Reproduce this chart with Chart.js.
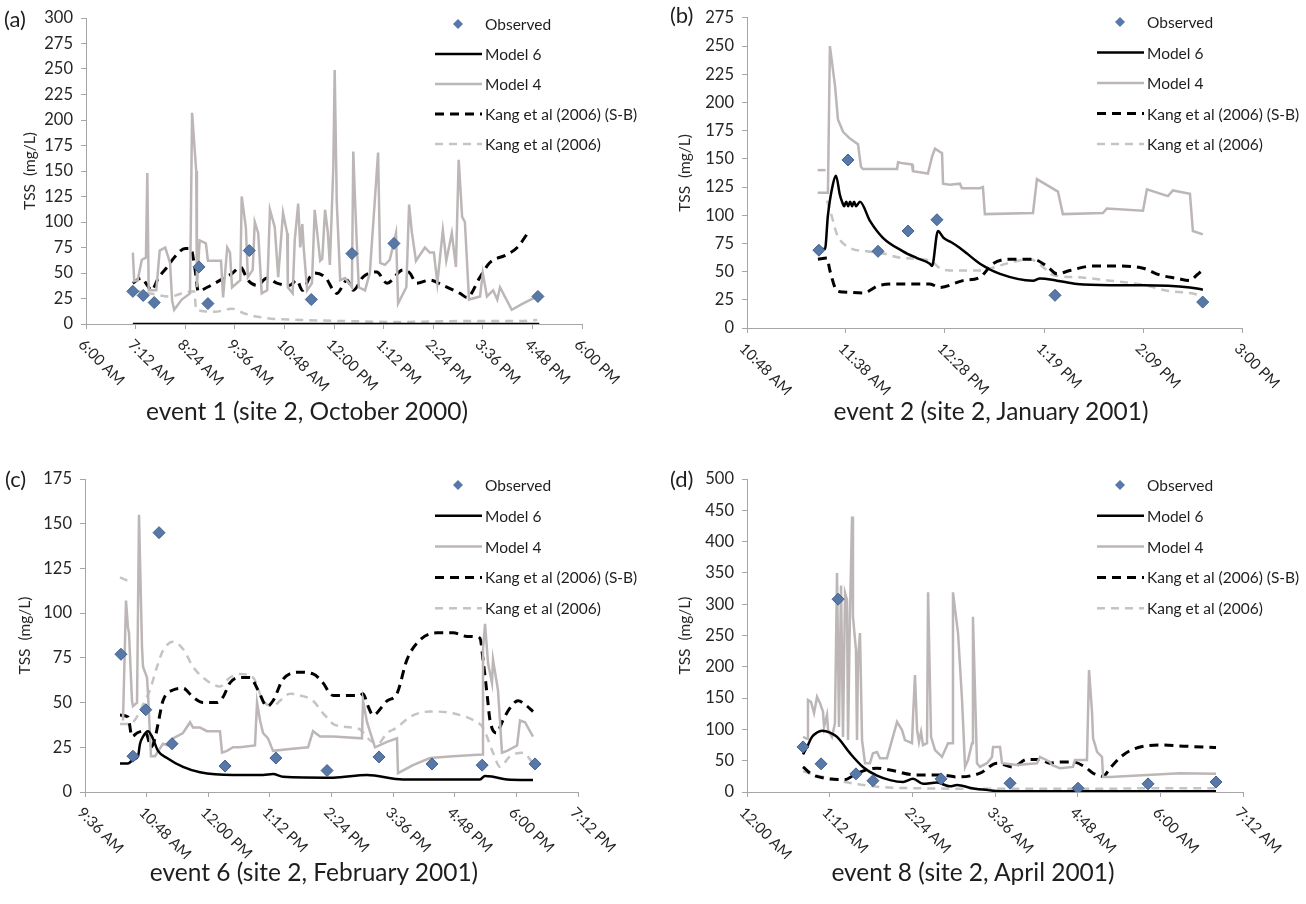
<!DOCTYPE html>
<html>
<head>
<meta charset="utf-8">
<script src="https://cdn.jsdelivr.net/npm/chart.js@4.4.1/dist/chart.umd.min.js"></script>
<style>
body{margin:0;background:#fff;font-family:Lato,sans-serif;}
#wrap{position:relative;width:1306px;height:904px;overflow:hidden;background:#fff;}
.panel{position:absolute;width:653px;height:452px;}
.title{position:absolute;width:600px;text-align:center;font-size:24.5px;line-height:30px;color:#1e1e1e;}
.tag{position:absolute;font-size:22px;line-height:26px;color:#1e1e1e;}
</style>
</head>
<body>
<div id="wrap">
  <div class="panel" style="left:0;top:0"><canvas id="cA" width="653" height="452"></canvas></div>
  <div class="panel" style="left:653px;top:0"><canvas id="cB" width="653" height="452"></canvas></div>
  <div class="panel" style="left:0;top:452px"><canvas id="cC" width="653" height="452"></canvas></div>
  <div class="panel" style="left:653px;top:452px"><canvas id="cD" width="653" height="452"></canvas></div>
  <div class="tag" style="left:4px;top:6px">(a)</div>
  <div class="tag" style="left:670px;top:2px">(b)</div>
  <div class="tag" style="left:5px;top:466px">(c)</div>
  <div class="tag" style="left:670px;top:466px">(d)</div>
  <div class="title" style="left:7px;top:396px">event 1 (site 2, October 2000)</div>
  <div class="title" style="left:691px;top:396px">event 2 (site 2, January 2001)</div>
  <div class="title" style="left:14px;top:857px">event 6 (site 2, February 2001)</div>
  <div class="title" style="left:673px;top:857px">event 8 (site 2, April 2001)</div>
</div>
<script>
// x values are minutes after midnight, y values are TSS in mg/L

// ---- (a) event 1
const ticksA = [360, 432, 504, 576, 648, 720, 792, 864, 936, 1008, 1080];
const tickLabelsA = ['6:00 AM','7:12 AM','8:24 AM','9:36 AM','10:48 AM','12:00 PM','1:12 PM','2:24 PM','3:36 PM','4:48 PM','6:00 PM'];
const obsA = [[428,32],[443,28],[459,21],[524,56],[537,20],[597,72],[687,24],[746,69],[807,79],[1016,27]];
const model6A = [[428,0],[1018,0]];
const model4A = [[428,70],[430,42],[435,43],[441,63],[447,65],[449,148],[451,33],[462,33],[467,72],[475,75],[482,60],[485,23],[488,14],[499,24],[511,30],[514,207],[517,178],[520,150],[521,36],[525,82],[534,79],[537,62],[556,62],[559,26],[565,75],[569,70],[572,36],[584,43],[586,125],[592,95],[595,46],[602,53],[605,100],[610,89],[615,30],[623,33],[627,112],[634,95],[639,46],[646,109],[652,89],[653,36],[660,30],[663,82],[668,118],[671,75],[674,98],[676,75],[681,33],[688,40],[692,112],[700,62],[703,64],[707,112],[711,90],[714,58],[717,115],[719,154],[721,249],[724,120],[729,43],[736,45],[746,36],[748,169],[750,131],[753,80],[756,36],[765,33],[772,50],[784,168],[787,60],[794,58],[801,63],[810,89],[813,20],[825,36],[829,117],[833,90],[839,62],[852,75],[859,70],[865,70],[870,40],[878,92],[883,62],[891,89],[897,56],[901,161],[906,105],[910,100],[916,24],[932,27],[936,50],[942,27],[951,33],[957,24],[961,36],[978,14],[994,20],[1015,27]];
const kangSbA = [[428,40],[440,45],[449,38],[455,33],[465,45],[478,56],[489,66],[504,74],[512,74],[518,55],[523,32],[536,36],[555,43],[573,50],[584,56],[595,43],[608,38],[623,45],[637,40],[656,38],[666,43],[674,33],[685,46],[692,50],[707,46],[724,30],[739,43],[748,33],[762,46],[782,51],[797,40],[820,53],[830,50],[840,40],[859,43],[878,38],[903,30],[913,26],[932,46],[946,60],[971,68],[986,75],[1004,92]];
const kangA = [[428,33],[453,30],[482,27],[504,31],[517,32],[520,14],[547,12],[572,15],[591,10],[620,6],[671,4],[729,3],[816,2],[917,3],[990,3],[1015,4]];

// ---- (b) event 2
const ticksB = [648, 698.4, 748.8, 799.2, 849.6, 900];
const tickLabelsB = ['10:48 AM','11:38 AM','12:28 PM','1:19 PM','2:09 PM','3:00 PM'];
const obsB = [[684.6,69],[699.4,149],[714.7,68],[730,86],[744.7,96],[804.8,29],[880,23]];
const model6B = [[684.1,70],[687.7,70],[689.2,100],[691.8,128],[693.3,135],[695.3,118],[696.4,112],[697.5,108],[698.5,112],[699.5,108],[700.5,112],[701.5,108],[702.5,112],[703.5,108],[705.5,112],[710.6,95],[717.2,80],[727.4,68],[734.5,62],[741.1,57],[742.2,55],[745.2,86],[748,80],[752,76],[756.4,71],[760,66],[766.6,57],[776.8,48],[793.6,42],[797.1,44],[805.8,42],[816,39],[832.8,38],[849.6,38],[873.5,36],[880.1,34]];
const model4StubB = [[684,140],[688,140]];
const model4B = [[684,120],[689.2,120],[690.2,250],[692.8,215],[694.3,185],[696.9,174],[700.4,168],[704.5,163],[706,143],[707,141],[724.4,141],[724.9,147],[727.4,146],[732,145],[732.5,139],[740.1,137],[742.2,152],[743.7,159],[747.3,155],[747.8,128],[751.3,127],[756.4,128],[757.4,124],[766.6,124],[768.1,125],[769.1,101],[793.6,102],[795.6,132],[806.3,121],[808.8,101],[829.2,102],[831.2,106],[849.6,104],[851.6,123],[862.3,117],[864.8,122],[873.5,119],[875,86],[880.1,83]];
const kangSbB = [[684.1,61],[688.7,62],[690.2,51],[693.8,33],[696.9,32],[707,31],[715.7,38],[724.4,39],[741.1,39],[746.2,36],[757.9,42],[766.6,45],[773.2,57],[781.9,61],[793.6,61],[801.2,54],[805.8,48],[812.4,51],[824.1,55],[836.3,55],[849.6,53],[858.2,47],[866.9,44],[873.5,42],[877,47],[879.6,51]];
const kangB = [[688.7,113],[690.2,105],[691.8,95],[693.8,83],[700.4,71],[709.1,68],[717.2,66],[727.4,62],[741.1,60],[746.2,53],[751.3,51],[766.6,51],[770.2,52],[781.9,58],[792,61],[798.7,54],[803.8,47],[816,45],[832.8,42],[850.6,38],[861.8,33],[873.5,31],[878.6,29]];

// ---- (c) event 6
const ticksC = [576, 648, 720, 792, 864, 936, 1008, 1080, 1152];
const tickLabelsC = ['9:36 AM','10:48 AM','12:00 PM','1:12 PM','2:24 PM','3:36 PM','4:48 PM','6:00 PM','7:12 PM'];
const obsC = [[618,77],[632,20],[647,46],[662.5,145],[677.7,27],[739.6,14.5],[799,19],[858.8,12],[919.5,19.6],[981.4,15.7],[1040,15],[1101.8,15.7]];
const model6C = [[616.9,16],[626.2,16],[632.1,18],[637.9,20],[640.3,27],[643.8,31],[649.6,34],[654.3,31],[661.3,23],[671.8,19],[690.5,14],[710.4,11],[748.9,9.5],[784,9.5],[795.7,10],[807.3,8.5],[866,8],[905.5,9.5],[947.5,7],[1037.5,7],[1043.4,9],[1052.7,8.5],[1069.1,7],[1099.4,6.7]];
const model4C = [[620.4,40],[623.9,107],[626.2,92],[627.4,89],[630.9,51],[632.1,48],[636.8,50],[639.1,155],[642.6,81],[643.8,70],[648.4,64],[649.6,55],[653.1,20],[657.8,20],[667.1,27],[673,26],[678.8,30],[690.5,33],[698.7,39],[702.2,36],[710.4,36],[718.5,34],[733.7,34],[736.1,22],[741.9,23],[748.9,25],[757.1,25],[774.6,26],[777,50],[780.5,40],[784,33],[789.8,30],[795.7,23],[815.5,24],[836.6,25],[842.4,34],[850.6,31],[866,31],[899.6,30],[900.8,51],[905.5,39],[914.8,25],[928.9,28],[940.5,30],[941.7,10.5],[959.2,15],[979.1,19],[1006,20],[1039.9,21],[1041,80],[1043.4,94],[1046.9,72],[1051.5,61],[1052.7,74],[1058.5,57],[1063.2,22],[1069.1,23],[1080.8,26],[1084.3,40],[1090.1,39],[1099.4,31]];
const kangSbC = [[616.9,43],[626.2,42],[630.9,31],[636.8,33],[643.8,34],[648.4,32],[653.1,25],[657.8,30],[661.3,38],[667.1,51],[678.8,57],[690.5,58],[702.2,53],[713.9,50],[730.2,50],[737.2,53],[745.4,61],[757.1,64],[768.8,64],[778.1,57],[788.7,48],[795.7,51],[807.3,63],[827.2,67],[842.4,66],[854.1,61],[862.3,55],[866,54],[897.3,54],[900.8,55],[906.7,48],[912.5,43],[928.9,51],[940.5,55],[952.2,74],[967.4,85],[987.3,89],[1006,89],[1022.3,87],[1037.5,86],[1041,74],[1045.7,55],[1049.2,40],[1057.4,33],[1063.2,39],[1072.6,47],[1081.9,51],[1092.4,48],[1099.4,45]];
const kangStubC = [[616.9,120],[626.2,118]];
const kangC = [[616.9,38],[628.6,38],[637.9,43],[645,50],[651.9,57],[660.1,70],[667.1,79],[678.8,84],[690.5,80],[702.2,70],[713.9,64],[733.7,59],[745.4,64],[757.1,66],[772.3,64],[784,51],[795.7,48],[803.8,51],[815.5,55],[827.2,54],[842.4,51],[854.1,44],[862.3,40],[866,38],[889.1,36],[897.3,35],[909,29],[918.3,27],[928.9,33],[940.5,36],[955.7,42],[979.1,45],[1006,44],[1034,39],[1041,36],[1052.7,22],[1060.9,14],[1072.6,20],[1087.8,22],[1099.4,16]];

// ---- (d) event 8
const ticksD = [0, 72, 144, 216, 288, 360, 432];
const tickLabelsD = ['12:00 AM','1:12 AM','2:24 AM','3:36 AM','4:48 AM','6:00 AM','7:12 AM'];
const obsD = [[48.8,72],[64.5,45],[79.3,308],[94.9,29],[109.7,18],[169,21],[229.1,14],[288.3,6],[349.3,13],[408.5,16]];
const model6D = [[48.8,60],[52.3,72],[56.6,88],[61,95],[65.3,98],[72.3,95],[78.4,88],[89.7,62],[101,40],[113.2,26],[124.6,19],[135.9,16],[144.6,21],[153.3,13],[165.5,15],[176.8,9],[182.9,11],[196,6],[210,3],[225,1],[408.5,1]];
const model4D = [[48.8,88],[52.3,85],[53.1,147],[55.7,144],[58.4,126],[61,152],[63.6,142],[66.2,128],[67.1,104],[69.7,123],[70.6,99],[74,88],[76.6,110],[78.4,350],[80.1,104],[81.9,330],[83.6,88],[85.4,318],[87.1,307],[88,83],[89.7,286],[91.5,440],[92.3,280],[94.9,227],[95.8,83],[96.7,211],[98.4,254],[100.2,83],[102.8,46],[107.1,46],[109.7,62],[113.2,64],[115.8,54],[121.9,54],[130.7,112],[135,99],[137.6,83],[143.7,78],[144.6,120],[146.3,187],[148.1,100],[149.8,80],[151.6,96],[153.3,75],[156.8,78],[157.7,319],[160.3,88],[163.8,67],[169.8,56],[175.1,78],[178.6,78],[179.4,319],[183.8,254],[187.3,147],[189.9,40],[192.5,51],[196,78],[196.8,280],[200.3,46],[202.9,40],[209,46],[213.4,56],[214.3,72],[220.4,72],[222.1,46],[235.2,43],[252.6,46],[255.2,56],[263.9,48],[265.7,43],[272.6,38],[283.9,40],[285.7,51],[296.1,51],[297.9,195],[300.5,128],[301.4,86],[304.9,64],[309.2,56],[310.1,24],[316.2,24],[348.4,27],[377.1,30],[408.5,29]];
const kangSbD = [[48.8,40],[56.6,28],[67.9,22],[85.4,20],[95.8,30],[113.2,38],[124.6,35],[148.1,27],[170.7,27],[182.9,24],[202.9,30],[217.8,46],[231.7,40],[243.9,52],[255.2,52],[263.9,46],[272.6,48],[283.9,48],[294.4,40],[301.4,30],[310.1,25],[316.2,38],[324.9,55],[333.6,66],[348.4,74],[359.7,75],[383.2,73],[408.5,71]];
const kangD = [[48.8,33],[59.2,27],[72.3,22],[85.4,16],[98.4,12],[115.8,8],[150,6],[220,5],[310,5],[350,6],[408.5,6]];

const toXY = arr => arr.map(p => ({x: p[0], y: p[1]}));

// rotated time labels under the x axis (Excel style, text running down-right)
const timeLabels = {
  id: 'timeLabels',
  afterDraw(chart, args, o) {
    const ctx = chart.ctx, xs = chart.scales.x, bottom = chart.chartArea.bottom;
    ctx.save();
    ctx.font = '15px Lato';
    ctx.fillStyle = '#262626';
    ctx.textAlign = 'left';
    ctx.textBaseline = 'middle';
    o.ticks.forEach((v, i) => {
      ctx.save();
      ctx.translate(xs.getPixelForValue(v) - 5, bottom + 18);
      ctx.rotate(Math.PI / 4);
      ctx.fillText(o.labels[i], 0, 0);
      ctx.restore();
    });
    ctx.restore();
  }
};

// vertical legend sitting in the top right of the plot
const sideLegend = {
  id: 'sideLegend',
  afterDraw(chart, args, o) {
    const ctx = chart.ctx;
    ctx.save();
    ctx.font = '15.5px Lato';
    ctx.textBaseline = 'middle';
    ctx.textAlign = 'left';
    [0, 1, 2, 3, 4].forEach((k, i) => {
      const ds = chart.data.datasets[k];
      const y = o.y + i * o.gap;
      if (ds.type === 'scatter') {
        const cx = o.x + 23, r = 5;
        ctx.beginPath();
        ctx.moveTo(cx - r, y); ctx.lineTo(cx, y - r); ctx.lineTo(cx + r, y); ctx.lineTo(cx, y + r);
        ctx.closePath();
        ctx.fillStyle = ds.backgroundColor;
        ctx.fill();
      } else {
        ctx.beginPath();
        ctx.strokeStyle = ds.borderColor;
        ctx.lineWidth = ds.borderWidth;
        ctx.setLineDash(ds.borderDash || []);
        ctx.moveTo(o.x, y);
        ctx.lineTo(o.x + 47, y);
        ctx.stroke();
        ctx.setLineDash([]);
      }
      ctx.fillStyle = '#1e1e1e';
      ctx.fillText(ds.label, o.x + 50, y + 1);
    });
    ctx.restore();
  }
};

const OBS = {type:'scatter', label:'Observed', pointStyle:'rectRot', pointRadius:6, backgroundColor:'#5879A7', borderColor:'#40608E', borderWidth:1};
const M6 = {type:'line', label:'Model 6', borderColor:'#000', borderWidth:2.5, pointRadius:0, cubicInterpolationMode:'monotone'};
const M4 = {type:'line', label:'Model 4', borderColor:'#BDB6B6', borderWidth:2.5, pointRadius:0};
const KSB = {type:'line', label:'Kang et al (2006) (S-B)', borderColor:'#000', borderWidth:3, borderDash:[9,6], pointRadius:0, cubicInterpolationMode:'monotone'};
const K = {type:'line', label:'Kang et al (2006)', borderColor:'#C4C4C4', borderWidth:2.5, borderDash:[8,6], pointRadius:0, cubicInterpolationMode:'monotone'};

function makeChart(id, p) {
  const datasets = [
    Object.assign({}, OBS, {data: toXY(p.obs)}),
    Object.assign({}, M6, {data: toXY(p.m6)}),
    Object.assign({}, M4, {data: toXY(p.m4)}),
    Object.assign({}, KSB, {data: toXY(p.ksb)}),
    Object.assign({}, K, {data: toXY(p.k)})
  ];
  if (p.m4Stub) datasets.push(Object.assign({}, M4, {data: toXY(p.m4Stub)}));
  if (p.kStub) datasets.push(Object.assign({}, K, {data: toXY(p.kStub)}));
  const [L, T, R, B] = p.area;
  return new Chart(document.getElementById(id), {
    type: 'line',
    data: {datasets},
    plugins: [timeLabels, sideLegend],
    options: {
      responsive: false,
      animation: false,
      events: [],
      layout: {padding: {left: 0, top: T, right: 653 - R, bottom: 0}},
      scales: {
        x: {
          type: 'linear',
          min: p.ticks[0],
          max: p.ticks[p.ticks.length - 1],
          afterBuildTicks: s => { s.ticks = p.ticks.map(v => ({value: v})); },
          afterFit: s => { s.height = 452 - B; },
          ticks: {display: false},
          grid: {drawOnChartArea: false, drawTicks: true, tickLength: 5, color: '#A6A6A6'},
          border: {color: '#A6A6A6'}
        },
        y: {
          min: 0,
          max: p.yMax,
          afterFit: s => { s.width = L; },
          ticks: {stepSize: p.yStep, padding: 8, color: '#262626', font: {family: 'Lato', size: 16.5}},
          grid: {drawOnChartArea: false, tickLength: 5, color: '#A6A6A6'},
          border: {color: '#A6A6A6'},
          title: {display: true, text: 'TSS  (mg/L)', color: '#262626', font: {family: 'Lato', size: 15.5}, padding: {top: p.titlePad, bottom: 0}}
        }
      },
      plugins: {
        legend: {display: false},
        tooltip: {enabled: false},
        timeLabels: {ticks: p.ticks, labels: p.labels},
        sideLegend: p.legend
      }
    }
  });
}

makeChart('cA', {obs: obsA, m6: model6A, m4: model4A, ksb: kangSbA, k: kangA,
  ticks: ticksA, labels: tickLabelsA, yMax: 300, yStep: 25,
  area: [86, 18, 582, 324], titlePad: 21, legend: {x: 435, y: 24, gap: 30}});

makeChart('cB', {obs: obsB, m6: model6B, m4: model4B, m4Stub: model4StubB, ksb: kangSbB, k: kangB,
  ticks: ticksB, labels: tickLabelsB, yMax: 275, yStep: 25,
  area: [94, 15, 589, 328], titlePad: 23, legend: {x: 444, y: 22, gap: 30.5}});

makeChart('cC', {obs: obsC, m6: model6C, m4: model4C, ksb: kangSbC, k: kangC, kStub: kangStubC,
  ticks: ticksC, labels: tickLabelsC, yMax: 175, yStep: 25,
  area: [85, 27, 578, 340], titlePad: 16, legend: {x: 435, y: 33, gap: 30.8}});

makeChart('cD', {obs: obsD, m6: model6D, m4: model4D, ksb: kangSbD, k: kangD,
  ticks: ticksD, labels: tickLabelsD, yMax: 500, yStep: 50,
  area: [94, 27, 590, 340], titlePad: 23, legend: {x: 444, y: 33, gap: 30.8}});
</script>
</body>
</html>
